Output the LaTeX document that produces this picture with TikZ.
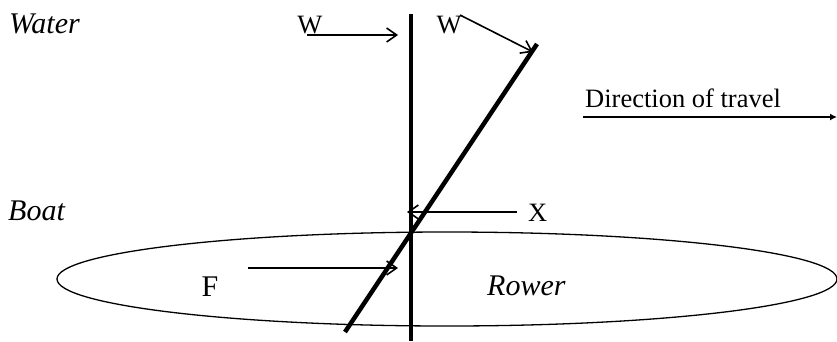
\documentclass[tikz,border=0pt]{standalone}
\usepackage{fontspec}
\setmainfont{Liberation Serif}
\usetikzlibrary{arrows.meta}
\begin{document}
\begin{tikzpicture}[x=1pt,y=-1pt,
  lbl/.style={inner sep=0pt,font=\fontsize{26.5}{30}\selectfont},
  ilbl/.style={lbl,font=\fontsize{30}{34}\selectfont\itshape},
  force/.style={line width=1.6pt,-{Straight Barb[length=10pt,width=14pt,line width=1.6pt]}},
  oar/.style={line width=4.5pt}]
\useasboundingbox (0,0) rectangle (837,341);
% boat
\draw[line width=1.3pt] (447,279) ellipse [x radius=390, y radius=47];
% vertical and angled oar
\coordinate (vt) at (411,14);
\coordinate (vb) at (411,341);
\draw[oar] (vt) -- (vb);
\coordinate (ot) at (537,44);
\coordinate (ob) at (345,332);
\draw[oar] (ot) -- (ob);
% labels
\node[ilbl,anchor=base west] (water) at (9,33) {Water};
\node[ilbl,anchor=base west] (boat) at (8,220) {Boat};
\node[ilbl,anchor=base west] (rower) at (487,295) {Rower};
\node[lbl,anchor=base] (w1) at (310,33) {W};
\node[lbl,anchor=base] (w2) at (449,33) {W};
\node[lbl,anchor=base west] (x) at (528,221) {X};
\node[lbl,anchor=base,font=\fontsize{30}{34}\selectfont] (f) at (210,296) {F};
\node[lbl,anchor=base west] (dir) at (585,107) {Direction of travel};
% forces
\coordinate (w1s) at (307,35);
\coordinate (w1e) at (398,35);
\draw[force] (w1s) -- (w1e);
\coordinate (w2s) at (460,15);
\coordinate (w2e) at (533,52);
\draw[force] (w2s) -- (w2e);
\coordinate (xs) at (517,212);
\coordinate (xe) at (407,212);
\draw[force] (xs) -- (xe);
\coordinate (fs) at (248,268);
\coordinate (fe) at (398,268);
\draw[force] (fs) -- (fe);
\coordinate (ds) at (583,117);
\coordinate (de) at (837,117);
\draw[line width=1.6pt,-{Latex[length=7pt,width=7pt]}] (ds) -- (de);
\end{tikzpicture}
\end{document}
